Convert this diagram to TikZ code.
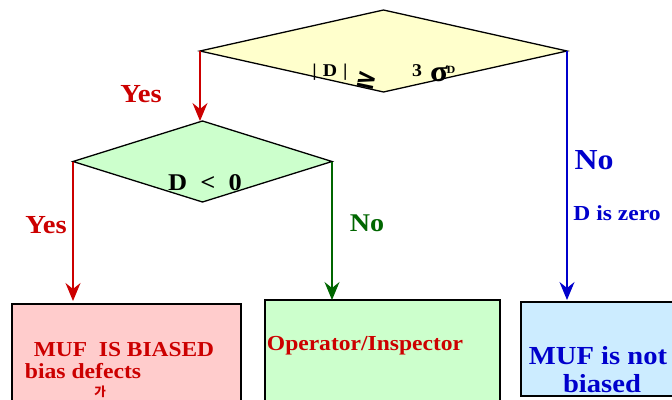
\documentclass[tikz,border=0pt]{standalone}
\usepackage{fontspec}
\setmainfont{Liberation Serif}[FakeStretch=1.1]
\newfontfamily\krfont{Noto Sans CJK KR}
\newfontfamily\symfont{DejaVu Sans}
\usetikzlibrary{shapes.geometric,positioning,arrows.meta}

\definecolor{yesred}{RGB}{204,0,0}
\definecolor{nogreen}{RGB}{0,102,0}
\definecolor{noblue}{RGB}{0,0,204}
\definecolor{testyellow}{RGB}{255,255,204}
\definecolor{testgreen}{RGB}{204,255,204}
\definecolor{boxpink}{RGB}{255,204,204}
\definecolor{boxblue}{RGB}{204,236,255}

\begin{document}
\begin{tikzpicture}[x=1pt,y=-1pt,
    test/.style={diamond, draw, line width=1.3pt, inner sep=0pt, outer sep=0pt},
    outcome/.style={draw, line width=1.3pt, inner sep=0pt, outer sep=0pt, anchor=north west},
    flow/.style={line width=1.2pt, -{Stealth[length=18pt, width=15pt, inset=6pt]}},
    word/.style={font=\bfseries, inner sep=0pt}]
    \useasboundingbox (0,0) rectangle (672,399);
    \clip (0,0) rectangle (672,399);

    % the two tests
    \node[test, fill=testyellow, minimum width=367pt, minimum height=82pt] (absd) at (383.5,51) {};
    \node[test, fill=testgreen, minimum width=259pt, minimum height=81pt] (sign) at (202.5,161.5) {};

    \node[word, font=\bfseries\fontsize{18}{18}\selectfont] (absdtxt) at (330,72) {|\,\,D\,\,|};
    \node[word, font=\symfont\bfseries\fontsize{26}{26}\selectfont, rotate=-12] (geq) at (367,80) {≥};
    \node[word, font=\bfseries\fontsize{18}{18}\selectfont] (three) at (417,71) {3};
    \node[word, font=\bfseries\fontsize{30}{30}\selectfont] (sigma) at (439,74) {σ};
    \node[word, font=\bfseries\fontsize{11}{11}\selectfont] (sub) at (451,70) {D};
    \node[word, font=\bfseries\fontsize{24}{24}\selectfont] (signtxt) at (205,183) {D \ <\ \ 0};

    % outcomes
    \node[outcome, fill=boxpink, minimum width=229pt, minimum height=110pt] (biased) at (12,304) {};
    \node[outcome, fill=testgreen, minimum width=235pt, minimum height=110pt] (inspect) at (265,300) {};
    \node[outcome, fill=boxblue, minimum width=180pt, minimum height=94pt] (unbiased) at (521,302) {};

    \node[word, text=yesred, font=\bfseries\fontsize{21.3}{21}\selectfont] (muf) at (124,350) {MUF \ IS BIASED};
    \node[word, text=yesred, font=\bfseries\fontsize{21.5}{21}\selectfont, text depth=0pt, anchor=base] (defects) at (83,378) {bias defects};
    \node[word, text=yesred, font=\krfont\bfseries\fontsize{12.5}{12}\selectfont] (ga) at (100,392) {가};
    \node[word, text=yesred, font=\bfseries\fontsize{21.4}{21}\selectfont] (oper) at (365,346) {Operator/Inspector};
    \node[word, text=noblue, font=\bfseries\fontsize{26}{26}\selectfont] (notb) at (598,356) {MUF is not};
    \node[word, text=noblue, font=\bfseries\fontsize{26}{26}\selectfont] (notc) at (602,384) {biased};

    % connectors
    \draw[flow, yesred] (absd.west) -- (absd.west |- sign.north);
    \draw[flow, yesred] (sign.west) -- ([yshift=3pt]sign.west |- biased.north);
    \draw[flow, nogreen] (sign.east) -- (sign.east |- inspect.north);
    \draw[flow, noblue] (absd.east) -- ([yshift=2pt]absd.east |- unbiased.north);

    \node[word, text=yesred, font=\bfseries\fontsize{26}{26}\selectfont] (yes1) at (141,94) {Yes};
    \node[word, text=yesred, font=\bfseries\fontsize{26}{26}\selectfont] (yes2) at (46,225) {Yes};
    \node[word, text=nogreen, font=\bfseries\fontsize{25.5}{25}\selectfont] (no1) at (367,223) {No};
    \node[word, text=noblue, font=\bfseries\fontsize{29}{29}\selectfont] (no2) at (594,160) {No};
    \node[word, text=noblue, font=\bfseries\fontsize{21.4}{21}\selectfont] (zero) at (617,213) {D is zero};
\end{tikzpicture}
\end{document}
